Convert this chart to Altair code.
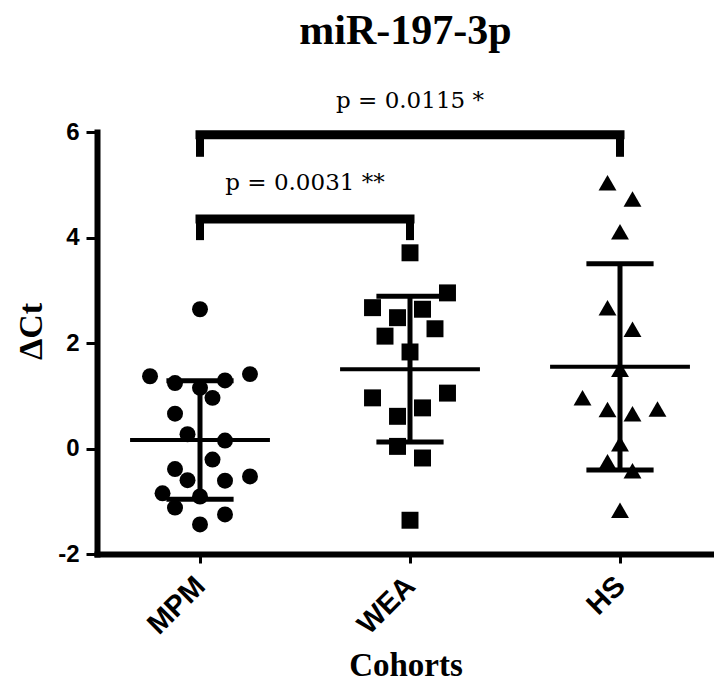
import altair as alt
import pandas as pd

# ---------------- data ----------------
cohorts = ["MPM", "WEA", "HS"]
shapes = ["circle", "square", "triangle-up"]
marker_sizes = [255, 320, 300]

mpm_values = [2.64, 1.37, 1.24, 1.15, 1.29, 1.41, 0.96, 0.66, 0.27, 0.15,
              -0.21, -0.39, -0.60, -0.61, -0.53, -0.85, -0.91, -1.12, -1.25, -1.44]
mpm_slots = [0, -4, -2, 0, 2, 4, 1, -2, -1, 2,
             1, -2, -1, 2, 4, -3, 0, -2, 2, 0]

wea_values = [3.71, 2.95, 2.67, 2.48, 2.64, 2.13, 2.27, 1.83, 1.05, 0.96,
              0.77, 0.61, 0.04, -0.18, -1.36]
wea_slots = [0, 3, -3, -1, 1, -2, 2, 0, 3, -3,
             1, -1, -1, 1, 0]

hs_values = [5.04, 4.73, 4.11, 2.67, 2.26, 1.50, 0.96, 0.74, 0.66, 0.75,
             0.09, -0.25, -0.42, -1.17]
hs_slots = [-1, 1, 0, -1, 1, 0, -3, -1, 1, 3,
            0, -1, 1, 0]

p_labels = ["p = 0.0115 *", "p = 0.0031 **"]
bracket_from = [0, 0]
bracket_to = [2, 1]
bracket_y = [5.95, 4.35]
bracket_drop = [5.53, 3.95]
p_label_y = [6.45, 4.9]

y_ticks = [-2, 0, 2, 4, 6]

JITTER = 0.0595      # width of one jitter slot, in category units
MEAN_HALF = 0.333    # half width of mean line
CAP_HALF = 0.16      # half width of SD caps

# ---------------- tables ----------------
rows = []
for idx, (vals, slots) in enumerate([(mpm_values, mpm_slots),
                                     (wea_values, wea_slots),
                                     (hs_values, hs_slots)]):
    for v, s in zip(vals, slots):
        rows.append({"idx": idx, "cohort": cohorts[idx], "value": v,
                     "xpos": idx + s * JITTER})
points = pd.DataFrame(rows)

brackets = pd.DataFrame({"x1": bracket_from, "x2": bracket_to,
                         "y": bracket_y, "drop": bracket_drop,
                         "label": p_labels, "ly": p_label_y})
ends = pd.DataFrame({
    "x": bracket_from + bracket_to,
    "y": bracket_y + bracket_y,
    "drop": bracket_drop + bracket_drop,
})

# ---------------- scales ----------------
x_scale = alt.Scale(domain=[-0.4905, 2.4476], nice=False, zero=False)
y_scale = alt.Scale(domain=[-2, 6], nice=False, zero=False)

x_axis = alt.Axis(
    values=[0, 1, 2],
    labelExpr=f"{cohorts}[datum.value]",
    labelAngle=-45, labelAlign="right", labelBaseline="middle",
    labelFont="Liberation Sans", labelFontWeight="bold", labelFontSize=29,
    labelColor="black", labelPadding=18,
    tickSize=9, tickWidth=3, tickColor="black",
    domainWidth=6, domainColor="black", domainCap="square",
    grid=False,
    title="Cohorts", titleFont="Liberation Serif", titleFontSize=33,
    titleFontWeight="bold", titleColor="black",
    titleBaseline="alphabetic", titleY=121,
)
y_axis = alt.Axis(
    values=y_ticks,
    labelExpr="datum.value + ''",
    labelFont="Liberation Sans", labelFontWeight="bold", labelFontSize=24,
    labelColor="black", labelPadding=7,
    tickSize=11, tickWidth=3, tickColor="black",
    domainWidth=6, domainColor="black", domainCap="square",
    grid=False,
    title="ΔCt", titleFont="Liberation Serif", titleFontSize=34,
    titleFontWeight="bold", titleColor="black",
    titleBaseline="alphabetic", titleAlign="center", titleAngle=270,
    titleX=-56, titleY=199,
)

# ---------------- layers ----------------
stats = (
    alt.Chart(points)
    .transform_aggregate(mean="mean(value)", sd="stdev(value)", groupby=["idx"])
    .transform_calculate(
        lo="datum.mean - datum.sd",
        hi="datum.mean + datum.sd",
        m1=f"datum.idx - {MEAN_HALF}",
        m2=f"datum.idx + {MEAN_HALF}",
        c1=f"datum.idx - {CAP_HALF}",
        c2=f"datum.idx + {CAP_HALF}",
    )
)

mean_line = stats.mark_rule(color="black", strokeWidth=4).encode(
    x=alt.X("m1:Q", scale=x_scale, axis=x_axis),
    x2="m2:Q",
    y=alt.Y("mean:Q", scale=y_scale, axis=y_axis),
)
stem = stats.mark_rule(color="black", strokeWidth=5).encode(
    x=alt.X("idx:Q", scale=x_scale),
    y=alt.Y("lo:Q", scale=y_scale),
    y2="hi:Q",
)
cap_hi = stats.mark_rule(color="black", strokeWidth=5).encode(
    x=alt.X("c1:Q", scale=x_scale), x2="c2:Q",
    y=alt.Y("hi:Q", scale=y_scale),
)
cap_lo = stats.mark_rule(color="black", strokeWidth=5).encode(
    x=alt.X("c1:Q", scale=x_scale), x2="c2:Q",
    y=alt.Y("lo:Q", scale=y_scale),
)

pts = alt.Chart(points).mark_point(filled=True, opacity=1, color="black").encode(
    x=alt.X("xpos:Q", scale=x_scale),
    y=alt.Y("value:Q", scale=y_scale),
    shape=alt.Shape("cohort:N", scale=alt.Scale(domain=cohorts, range=shapes), legend=None),
    size=alt.Size("cohort:N", scale=alt.Scale(domain=cohorts, range=marker_sizes), legend=None),
)

br_h = alt.Chart(brackets).mark_rule(color="black", strokeWidth=9, strokeCap="square").encode(
    x=alt.X("x1:Q", scale=x_scale), x2="x2:Q",
    y=alt.Y("y:Q", scale=y_scale),
)
br_v = alt.Chart(ends).mark_rule(color="black", strokeWidth=8, strokeCap="butt").encode(
    x=alt.X("x:Q", scale=x_scale),
    y=alt.Y("drop:Q", scale=y_scale), y2="y:Q",
)
p_text = alt.Chart(brackets).transform_calculate(
    xm="(datum.x1 + datum.x2) / 2"
).mark_text(font="DejaVu Serif", fontSize=23, color="black",
            align="center", baseline="alphabetic").encode(
    x=alt.X("xm:Q", scale=x_scale),
    y=alt.Y("ly:Q", scale=y_scale),
    text="label:N",
)

chart = (
    alt.layer(mean_line, stem, cap_hi, cap_lo, br_h, br_v, pts, p_text)
    .properties(
        width=617, height=422,
        autosize=alt.AutoSizeParams(type="none"),
        padding={"left": 89, "top": 124, "right": 0, "bottom": 130},
        title=alt.TitleParams(
            text="miR-197-3p", font="Liberation Serif", fontSize=42,
            fontWeight="bold", color="black", anchor="middle", frame="group",
            baseline="alphabetic", offset=4,
        ),
        background="white",
    )
    .configure_view(strokeWidth=0)
)

chart.save("out.html", embed_options={"renderer": "svg", "actions": False})
